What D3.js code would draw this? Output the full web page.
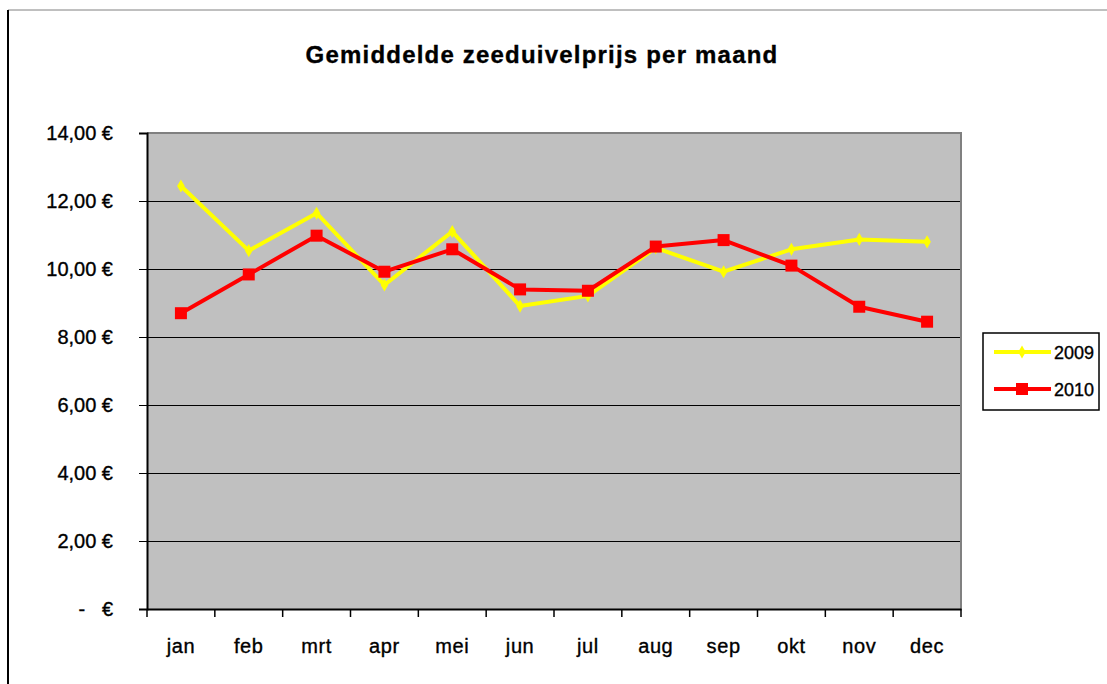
<!DOCTYPE html>
<html>
<head>
<meta charset="utf-8">
<script src="https://cdn.jsdelivr.net/npm/d3@7"></script>
<style>
  body { margin: 0; background: #fff; }
  text { font-family: Arial, "Liberation Sans", sans-serif; stroke: #000; stroke-width: 0.35px; }
</style>
</head>
<body>
<script>
var months = ["jan", "feb", "mrt", "apr", "mei", "jun", "jul", "aug", "sep", "okt", "nov", "dec"]
var prices2009 = [12.44, 10.54, 11.64, 9.53, 11.10, 8.91, 9.21, 10.62, 9.92, 10.58, 10.87, 10.80]
var prices2010 = [8.70, 9.84, 10.98, 9.92, 10.58, 9.40, 9.36, 10.66, 10.85, 10.10, 8.89, 8.45]
var yTicks = [0, 2, 4, 6, 8, 10, 12, 14]
var seriesNames = ["2009", "2010"]

var width = 1107, height = 684
var plotLeft = 147, plotRight = 961, plotTop = 133, plotBottom = 609

var svg = d3.select("body").append("svg")
    .attr("width", width)
    .attr("height", height)

// outer chart frame
svg.append("line").attr("x1", 8).attr("x2", width).attr("y1", 10).attr("y2", 10)
    .attr("stroke", "#808080").attr("stroke-width", 1)
svg.append("line").attr("x1", 8).attr("x2", 8).attr("y1", 10).attr("y2", height)
    .attr("stroke", "#000").attr("stroke-width", 2)

svg.append("text")
    .attr("x", 542).attr("y", 63)
    .attr("text-anchor", "middle")
    .style("font-size", "24px").style("font-weight", "bold")
    .style("letter-spacing", "1.2px")
    .text("Gemiddelde zeeduivelprijs per maand")

var x = d3.scaleBand().domain(months).range([plotLeft, plotRight])
var y = d3.scaleLinear().domain([0, 14]).range([plotBottom, plotTop])

svg.append("rect")
    .attr("x", plotLeft).attr("y", plotTop)
    .attr("width", plotRight - plotLeft).attr("height", plotBottom - plotTop)
    .attr("fill", "#c0c0c0")

svg.append("g").selectAll("line")
    .data(yTicks.filter(function(d) { return d > 0 && d < 14 }))
    .enter().append("line")
    .attr("x1", plotLeft).attr("x2", plotRight)
    .attr("y1", function(d) { return y(d) + 0.5 }).attr("y2", function(d) { return y(d) + 0.5 })
    .attr("stroke", "#000").attr("stroke-width", 1.2)
    .attr("shape-rendering", "crispEdges")

// top and right plot border
svg.append("path")
    .attr("d", "M" + plotLeft + "," + plotTop + "H" + plotRight + "V" + plotBottom)
    .attr("fill", "none").attr("stroke", "#808080").attr("stroke-width", 2)

var yAxis = svg.append("g")
    .attr("transform", "translate(" + plotLeft + ",0)")
    .call(d3.axisLeft(y).tickValues(yTicks).tickSize(8).tickPadding(26)
      .tickFormat(function(d) { return d === 0 ? "-   \u20ac" : d3.format(".2f")(d).replace(".", ",") + " \u20ac" }))
yAxis.select(".domain").attr("stroke-width", 2)
yAxis.selectAll("text").style("font-size", "20px").attr("fill", "#000")
    .style("white-space", "pre")

var xAxis = svg.append("g")
    .attr("transform", "translate(0," + plotBottom + ")")
    .call(d3.axisBottom(x).tickSize(0).tickPadding(30))
xAxis.select(".domain").attr("stroke-width", 2)
xAxis.selectAll("text").style("font-size", "20px").style("letter-spacing", "0.6px").attr("fill", "#000")

svg.append("g").selectAll("line")
    .data(d3.range(months.length + 1))
    .enter().append("line")
    .attr("x1", function(i) { return plotLeft + i * x.step() })
    .attr("x2", function(i) { return plotLeft + i * x.step() })
    .attr("y1", plotBottom).attr("y2", plotBottom + 8)
    .attr("stroke", "#000").attr("stroke-width", 1.5)

var line = d3.line()
    .x(function(d, i) { return x(months[i]) + x.bandwidth() / 2 })
    .y(function(d) { return y(d) })

svg.append("path").datum(prices2009)
    .attr("d", line).attr("fill", "none")
    .attr("stroke", "#ffff00").attr("stroke-width", 4).attr("stroke-linejoin", "round")
svg.append("g").selectAll("path")
    .data(prices2009).enter().append("path")
    .attr("d", d3.symbol(d3.symbolDiamond, 50))
    .attr("transform", function(d, i) { return "translate(" + (x(months[i]) + x.bandwidth() / 2) + "," + y(d) + ")" })
    .attr("fill", "#ffff00")

svg.append("path").datum(prices2010)
    .attr("d", line).attr("fill", "none")
    .attr("stroke", "#ff0000").attr("stroke-width", 4).attr("stroke-linejoin", "round")
svg.append("g").selectAll("rect")
    .data(prices2010).enter().append("rect")
    .attr("x", function(d, i) { return x(months[i]) + x.bandwidth() / 2 - 6 })
    .attr("y", function(d) { return y(d) - 6 })
    .attr("width", 12).attr("height", 12)
    .attr("fill", "#ff0000")

// legend
var legend = svg.append("g")
legend.append("rect")
    .attr("x", 983).attr("y", 333).attr("width", 116).attr("height", 77)
    .attr("fill", "#fff").attr("stroke", "#000").attr("stroke-width", 1.5)
var colors = ["#ffff00", "#ff0000"]
var items = legend.selectAll("g.item").data(seriesNames).enter().append("g")
    .attr("transform", function(d, i) { return "translate(0," + (352 + i * 37) + ")" })
items.append("line")
    .attr("x1", 994).attr("x2", 1051)
    .attr("stroke", function(d, i) { return colors[i] }).attr("stroke-width", 4)
items.each(function(d, i) {
  var g = d3.select(this)
  if (i === 0) {
    g.append("path").attr("d", d3.symbol(d3.symbolDiamond, 50))
      .attr("transform", "translate(1022,0)").attr("fill", colors[i])
  } else {
    g.append("rect").attr("x", 1016).attr("y", -6).attr("width", 12).attr("height", 12)
      .attr("fill", colors[i])
  }
})
items.append("text")
    .attr("x", 1054).attr("y", 7)
    .style("font-size", "18px")
    .text(function(d) { return d })
</script>
</body>
</html>
